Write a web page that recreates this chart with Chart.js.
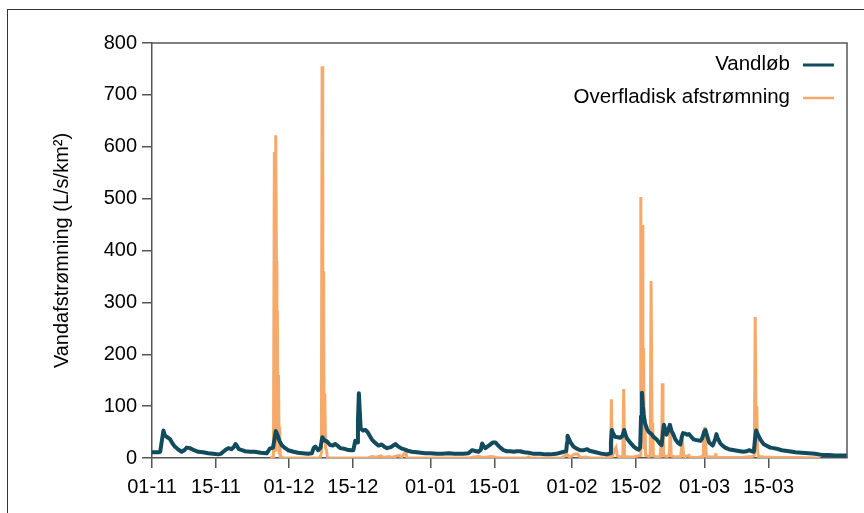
<!DOCTYPE html>
<html>
<head>
<meta charset="utf-8">
<script src="https://cdn.jsdelivr.net/npm/chart.js@4.4.1/dist/chart.umd.min.js"></script>
<style>
  html, body { margin: 0; padding: 0; background: #fff; overflow: hidden; }
  #wrap { position: relative; width: 864px; height: 513px; }
  #frame { position: absolute; left: 7px; top: 9px; width: 900px; height: 600px; border: 1px solid #333; }
  #chart { position: absolute; left: 0; top: 0; }
</style>
</head>
<body>
<div id="wrap">
  <div id="frame"></div>
  <canvas id="chart" width="864" height="513"></canvas>
</div>
<script>
// days counted from 01-11
const tickDays = [0, 14, 30, 44, 61, 75, 92, 106, 121, 135];
const tickLabels = ["01-11", "15-11", "01-12", "15-12", "01-01", "15-01", "01-02", "15-02", "01-03", "15-03"];
const yTicks = [0, 100, 200, 300, 400, 500, 600, 700, 800];

// Vandløb
const streamDays = [
  0, 1.4, 1.8, 2.1, 2.5, 2.8, 3.2, 3.9, 4.5, 5.0, 5.8, 6.5, 7.2, 7.6, 8.3, 9.2, 10.1, 11.2, 12.3, 13.4,
  14.5, 15.1, 15.6, 16.2, 16.7, 17.4, 18.0, 18.3, 18.7, 19.0, 19.7, 20.4, 21.5, 22.5, 23.8, 25.1, 25.5, 25.8, 26.5, 26.8,
  27.1, 27.5, 27.9, 28.4, 29.0, 29.8, 31.0, 32.0, 33.0, 34.2, 35.0, 35.4, 35.8, 36.4, 36.9, 37.3, 37.8, 38.3, 39.0, 39.6,
  40.1, 40.6, 41.2, 42.0, 42.7, 43.5, 44.1, 44.5, 44.9, 45.1, 45.3, 45.5, 45.7, 46.2, 46.8, 47.2, 47.8, 48.2, 48.8, 49.3,
  49.6, 50.3, 51.0, 51.5, 52.3, 53.0, 53.3, 53.8, 54.7, 55.1, 56.0, 56.9, 58.0, 59.8, 61.0, 62.3, 63.5, 65.0, 66.2, 67.1,
  68.2, 69.3, 69.8, 70.1, 70.6, 71.5, 72.0, 72.3, 72.7, 73.0, 73.6, 74.1, 74.6, 75.2, 75.8, 76.3, 77.0, 77.7, 78.5, 79.2,
  79.9, 80.6, 81.5, 82.5, 83.6, 85.0, 86.2, 87.2, 88.5, 89.8, 90.7, 90.9, 91.0, 91.3, 91.6, 92.3, 93.0, 93.8, 94.6, 95.3,
  95.8, 96.7, 97.6, 98.6, 99.6, 100.3, 100.5, 100.7, 101.0, 101.4, 102.0, 102.5, 103.0, 103.4, 103.7, 104.0, 104.7, 105.5, 106.1, 106.6,
  106.9, 107.1, 107.3, 107.5, 107.7, 108.0, 108.4, 108.8, 109.1, 109.5, 109.8, 110.2, 110.6, 111.0, 111.3, 111.6, 111.9, 112.1, 112.4, 112.7,
  113.0, 113.4, 113.8, 114.2, 114.6, 115.2, 115.7, 116.0, 116.3, 116.8, 117.2, 117.6, 118.0, 118.6, 119.0, 119.6, 120.1, 120.5, 120.9, 121.2,
  121.6, 122.0, 122.4, 122.8, 123.3, 123.6, 123.9, 124.4, 124.8, 125.5, 126.3, 127.5, 128.8, 129.5, 130.2, 130.8, 131.4, 131.8, 132.1, 132.3,
  132.7, 133.2, 133.9, 134.3, 135.4, 136.1, 136.8, 137.9, 139.5, 140.9, 142.3, 143.8, 145.2, 146.7, 148.2, 149.6, 151.0, 152.2
];
const streamFlow = [
  11, 11, 12, 30, 53, 44, 41, 37, 28, 22, 16, 12, 16, 20, 19, 15, 12, 11, 9, 8,
  7, 8, 12, 16, 19, 17, 22, 27, 22, 17, 15, 13, 12, 12, 10, 9, 14, 18, 20, 35,
  52, 44, 33, 25, 20, 15, 12, 10, 9, 8, 9, 19, 22, 15, 20, 40, 34, 32, 25, 24,
  27, 24, 19, 18, 16, 15, 15, 33, 30, 70, 125, 90, 57, 53, 54, 50, 41, 35, 30, 26,
  24, 26, 21, 19, 21, 25, 27, 23, 18, 17, 14, 12, 11, 9, 9, 8, 8, 9, 8, 8,
  8, 9, 13, 15, 14, 12, 16, 28, 22, 19, 23, 26, 30, 30, 24, 20, 15, 13, 13, 12,
  13, 13, 11, 10, 8, 8, 7, 7, 8, 11, 13, 30, 43, 37, 31, 22, 18, 15, 15, 17,
  14, 12, 10, 8, 7, 9, 30, 54, 47, 41, 40, 39, 42, 54, 45, 38, 30, 22, 18, 16,
  20, 80, 126, 100, 83, 66, 56, 50, 48, 45, 41, 38, 35, 30, 27, 25, 50, 64, 55, 45,
  52, 64, 52, 45, 36, 29, 26, 40, 48, 47, 45, 46, 42, 36, 35, 34, 33, 38, 50, 54,
  42, 30, 27, 24, 35, 46, 38, 29, 25, 20, 17, 15, 13, 12, 13, 15, 13, 12, 40, 53,
  45, 36, 27, 25, 20, 19, 18, 15, 13, 11, 10, 9, 8, 6, 6, 5, 5, 5
];

// Overfladisk afstrømning
const runoffDays = [
  25.9, 26.3, 26.6, 26.8, 26.95, 27.1, 27.25, 27.35, 27.45, 27.6, 27.7, 27.85, 27.95, 28.1, 28.4, 28.7,
  36.6, 36.9, 37.1, 37.25, 37.4, 37.5, 37.6, 37.7, 37.85, 38.0, 38.2, 38.4, 38.8,
  47.3, 48.3, 48.8, 50.2, 50.6, 52.0, 52.4, 54.2, 54.6, 55.6, 55.8,
  69.5, 70.5, 71.6, 72.5, 74.3, 75.5, 76.5, 82.0, 82.5, 83.0,
  89.6, 90.4, 91.0, 91.5, 92.4, 93.2, 93.8, 95.0, 96.0,
  99.2, 99.8, 100.45, 100.6, 100.8, 101.3, 101.6, 101.9, 102.5, 103.1, 103.3, 103.5, 104.5, 105.5, 106.3,
  106.9, 107.05, 107.2, 107.35, 107.5, 107.65, 107.8, 107.95, 108.1, 108.8,
  109.1, 109.3, 109.5, 109.65, 109.8, 110.5, 111.3, 111.5, 111.6, 111.75, 111.9, 112.05, 112.8,
  113.3, 113.5, 113.7, 114.6, 115.8, 116.0, 116.2, 116.4, 116.6, 117.6, 117.8, 119.5,
  120.7, 120.9, 121.05, 121.2, 121.4, 122.2, 123.3, 123.45, 123.6, 126.0, 129.0,
  131.5, 131.9, 132.1, 132.3, 132.45, 132.6, 132.8, 134.0, 137.0, 141.0, 146.3
];
const runoffFlow = [
  0, 2, 0, 590, 15, 622, 380, 120, 285, 40, 160, 10, 60, 0, 2, 0,
  0, 3, 10, 755, 30, 360, 275, 40, 125, 20, 15, 2, 0,
  0, 3, 1, 4, 1, 3, 1, 5, 1, 12, 0,
  0, 2, 3, 1, 3, 1, 0, 0, 2, 0,
  0, 4, 6, 1, 7, 8, 1, 2, 0,
  0, 2, 2, 113, 3, 15, 20, 4, 2, 2, 133, 3, 2, 2, 4,
  5, 503, 60, 449, 30, 212, 20, 68, 5, 3,
  4, 341, 60, 68, 4, 2, 3, 35, 4, 144, 75, 4, 3,
  5, 67, 4, 2, 3, 22, 28, 8, 2, 5, 1, 1,
  3, 55, 60, 40, 3, 2, 2, 9, 1, 1, 1,
  3, 5, 272, 30, 100, 15, 3, 2, 1, 1, 0
];

const fontFam = '"Liberation Sans", Arial, sans-serif';
const tealColor = "#124a5e";
const orangeColor = "#f5a96a";
const axisColor = "#555555";

const boxPlugin = {
  id: "boxAndLegend",
  afterDraw(chart) {
    const { ctx, chartArea } = chart;
    ctx.save();
    // top and right edges of the plot box
    ctx.strokeStyle = axisColor;
    ctx.lineWidth = 1.5;
    ctx.beginPath();
    ctx.moveTo(chartArea.left, chartArea.top);
    ctx.lineTo(chartArea.right, chartArea.top);
    ctx.lineTo(chartArea.right, chartArea.bottom);
    ctx.stroke();

    // legend: text first, line sample to the right
    ctx.font = "20.5px " + fontFam;
    ctx.textAlign = "right";
    ctx.textBaseline = "middle";
    chart.data.datasets.forEach((ds, i) => {
      const y = chartArea.top + 21 + i * 33;
      ctx.fillStyle = "#000";
      ctx.fillText(ds.label, chartArea.right - 57, y);
      ctx.strokeStyle = ds.borderColor;
      ctx.lineWidth = i === 0 ? 3 : 2.5;
      ctx.beginPath();
      ctx.moveTo(chartArea.right - 44, y + 1);
      ctx.lineTo(chartArea.right - 13, y + 1);
      ctx.stroke();
    });
    ctx.restore();
  }
};

new Chart(document.getElementById("chart").getContext("2d"), {
  type: "line",
  data: {
    datasets: [{
      label: "Vandløb",
      data: streamDays.map((d, i) => ({ x: d, y: streamFlow[i] })),
      borderColor: tealColor,
      borderWidth: 4,
      pointRadius: 0,
      tension: 0,
      borderJoinStyle: "round"
    }, {
      label: "Overfladisk afstrømning",
      data: runoffDays.map((d, i) => ({ x: d, y: runoffFlow[i] })),
      borderColor: orangeColor,
      borderWidth: 3,
      pointRadius: 0,
      tension: 0
    }]
  },
  options: {
    responsive: false,
    animation: false,
    layout: { padding: { left: 0, top: 43, right: 17, bottom: 0 } },
    plugins: { legend: { display: false }, tooltip: { enabled: false } },
    scales: {
      x: {
        type: "linear",
        min: 0,
        max: 152.2,
        z: 1,
        afterBuildTicks: s => { s.ticks = tickDays.map(v => ({ value: v })); },
        afterFit: s => { s.height = 55; },
        grid: { drawOnChartArea: false, tickLength: 10, color: axisColor, lineWidth: 1.5 },
        border: { display: true, color: axisColor, width: 1.5 },
        ticks: {
          autoSkip: false, maxRotation: 0, padding: 7, color: "#000",
          font: { size: 20, family: fontFam },
          callback: v => tickLabels[tickDays.indexOf(v)]
        }
      },
      y: {
        min: 0,
        max: 800,
        afterBuildTicks: s => { s.ticks = yTicks.map(v => ({ value: v })); },
        afterFit: s => { s.width = 152; },
        grid: { drawOnChartArea: false, tickLength: 10, color: axisColor, lineWidth: 1.5 },
        border: { display: true, color: axisColor, width: 1.5 },
        ticks: { padding: 5, color: "#000", font: { size: 20, family: fontFam } },
        title: {
          display: true,
          text: "Vandafstrømning (L/s/km²)",
          color: "#000",
          font: { size: 20, family: fontFam },
          padding: { top: 50, bottom: 0 }
        }
      }
    }
  },
  plugins: [boxPlugin]
});
</script>
</body>
</html>
